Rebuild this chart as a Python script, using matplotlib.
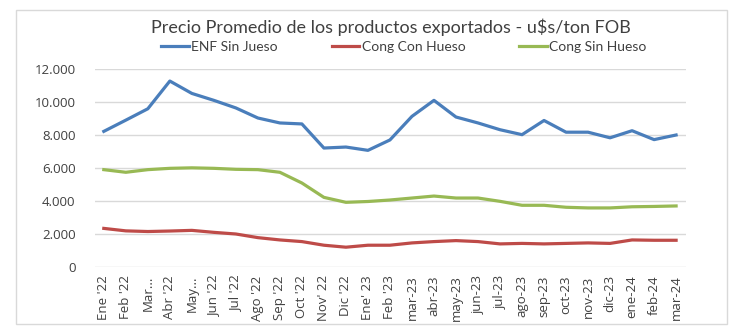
import matplotlib.pyplot as plt
from matplotlib.patches import Rectangle
from matplotlib.ticker import FuncFormatter

months = ["Ene '22", "Feb '22", "Mar...", "Abr '22", "May...", "Jun '22", "Jul '22",
          "Ago '22", "Sep '22", "Oct '22", "Nov' 22", "Dic '22", "Ene' 23", "Feb '23",
          "mar-23", "abr-23", "may-23", "jun-23", "jul-23", "ago-23", "sep-23",
          "oct-23", "nov-23", "dic-23", "ene-24", "feb-24", "mar-24"]

enf_sin_jueso = [8220, 8900, 9590, 11270, 10520, 10100, 9640, 9030, 8730, 8670,
                 7210, 7270, 7070, 7700, 9130, 10100, 9090, 8730, 8320, 8020,
                 8880, 8170, 8170, 7830, 8260, 7720, 8000]
cong_con_hueso = [2340, 2190, 2150, 2180, 2220, 2100, 2000, 1780, 1640, 1540,
                  1320, 1200, 1320, 1320, 1460, 1540, 1600, 1540, 1400, 1430,
                  1400, 1430, 1460, 1430, 1640, 1620, 1620]
cong_sin_hueso = [5900, 5740, 5900, 5980, 6010, 5980, 5920, 5900, 5740, 5090,
                  4220, 3920, 3970, 4060, 4180, 4300, 4180, 4180, 3980, 3740,
                  3740, 3620, 3580, 3580, 3650, 3670, 3700]

plt.rcParams['font.family'] = ['Open Sans', 'DejaVu Sans']

fig = plt.figure(figsize=(7.37, 3.33), dpi=100)
ax = fig.add_axes([95 / 737, 1 - 267 / 333, (686 - 95) / 737, (267 - 69) / 333])

x = range(len(months))
ax.plot(x, enf_sin_jueso, color='#4A7EBB', lw=2.3, label='ENF Sin Jueso')
ax.plot(x, cong_con_hueso, color='#BE4B48', lw=2.3, label='Cong Con Hueso')
ax.plot(x, cong_sin_hueso, color='#98B954', lw=2.3, label='Cong Sin Hueso')

ax.set_ylim(0, 12000)
ax.set_yticks(range(0, 12001, 2000))
ax.yaxis.set_major_formatter(FuncFormatter(lambda v, p: f"{int(v):,}".replace(',', '.')))
ax.set_xlim(-0.4, len(months) - 1 + 0.45)
ax.set_xticks(list(x))
ax.set_xticklabels(months, rotation=90)
ax.grid(axis='y', color='#D9D9D9', lw=1)
ax.set_axisbelow(True)
for s in ax.spines.values():
    s.set_visible(False)
ax.tick_params(axis='both', length=0, labelsize=9.5, colors='#404040', pad=6)
ax.tick_params(axis='y', pad=14)

fig.text(0.53, 1 - 27 / 333, 'Precio Promedio de los productos exportados - u$s/ton FOB',
         ha='center', va='center', fontsize=13, color='#404040', family=['Lato', 'DejaVu Sans'])
fig.legend(loc='center', bbox_to_anchor=(0.548, 1 - 47 / 333), ncol=3, frameon=False,
           handlelength=2.0, handletextpad=0.15, columnspacing=3.9,
           prop={'family': ['Lato', 'DejaVu Sans'], 'size': 10})
for t in fig.legends[0].get_texts():
    t.set_color('#404040')

fig.patches.append(Rectangle((16 / 737, 1 - 324 / 333), (727 - 16) / 737, (324 - 10) / 333,
                             transform=fig.transFigure, fill=False, ec='#D9D9D9', lw=1))

fig.savefig('out.png', dpi=100)
